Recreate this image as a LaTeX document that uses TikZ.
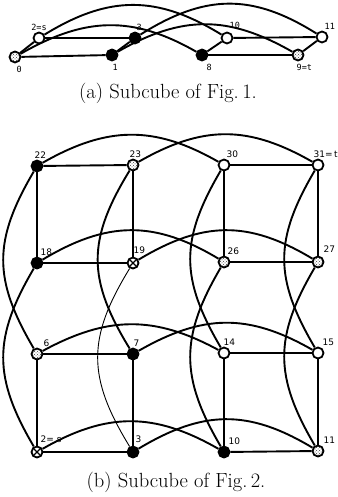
\documentclass[tikz,border=0pt]{standalone}
\usepackage{fontspec}
\newfontfamily\lblfont{DejaVu Sans}
\newfontfamily\lblmono{DejaVu Sans Mono}
\usetikzlibrary{patterns}
\pgfdeclarelayer{bg}
\pgfsetlayers{bg,main}
\begin{document}
\begin{tikzpicture}[x=1pt,y=-1pt,
  vtx/.style={circle,draw,line width=1.8pt,minimum size=11pt,inner sep=0pt},
  wv/.style={vtx,fill=white},
  bv/.style={vtx,fill=black},
  dv/.style={vtx,preaction={fill=white},pattern=crosshatch dots,pattern color=black!75},
  xv/.style={vtx,fill=white,path picture={\draw[line width=1.1pt]
     (path picture bounding box.north west)--(path picture bounding box.south east)
     (path picture bounding box.north east)--(path picture bounding box.south west);}},
  edge/.style={line width=1.9pt},
  thinedge/.style={line width=0.9pt},
  lb/.style={font=\lblfont\fontsize{9}{9}\selectfont,inner sep=0.5pt,anchor=south west},
  la/.style={font=\lblmono\fontsize{8.5}{8.5}\selectfont,inner sep=0.5pt},
  captxt/.style={font=\fontsize{20.5}{24}\selectfont,inner sep=0pt,anchor=base}
]
\useasboundingbox (0,0) rectangle (337,497);

% ---------- (a) ----------
\node[dv,label={[la,anchor=north west,xshift=1pt,yshift=-2pt]south:0}] (a0) at (15,57) {};
\node[bv,label={[la,anchor=north west,yshift=-2pt]south:1}] (a1) at (112,55) {};
\node[bv,label={[la,anchor=north west,xshift=4pt,yshift=-2pt]south:8}] (a8) at (202,55) {};
\node[dv,label={[la,anchor=north west,xshift=-2pt,yshift=-2pt]south:9=t}] (a9) at (298,55) {};
\node[wv,label={[la,anchor=south]north:2=s}] (a2) at (39,38) {};
\node[bv,label={[la,anchor=south west,xshift=1pt]north:3}] (a3) at (135,38) {};
\node[wv,label={[la,anchor=south west,xshift=2pt,yshift=2pt]north:10}] (a10) at (227,38) {};
\node[wv,label={[la,anchor=south west,xshift=2pt]north:11}] (a11) at (322,37) {};

\begin{pgfonlayer}{bg}
\draw[edge] (a0) -- (a1);
\draw[edge] (a8) -- (a9);
\draw[edge] (a2) -- (a3);
\draw[edge] (a10) -- (a11);
\draw[edge] (a0) -- (a2);
\draw[edge] (a1) -- (a3);
\draw[edge] (a8) -- (a10);
\draw[edge] (a9) -- (a11);
\draw[edge] (a0) .. controls +(70,-40) and +(-70,-40) .. (a8);
\draw[edge] (a1) .. controls +(70,-40) and +(-70,-40) .. (a9);
\draw[edge] (a2) .. controls +(70,-43) and +(-70,-43) .. (a10);
\draw[edge] (a3) .. controls +(70,-44) and +(-70,-44) .. (a11);
\end{pgfonlayer}

\node[captxt] (capa) at (168,99) {(a) Subcube of Fig.\,1.};

% ---------- (b) ----------
\node[bv,label={[lb,xshift=-3pt]north:22}] (n22) at (37,166) {};
\node[dv,label={[lb,xshift=-4pt]north:23}] (n23) at (133,165) {};
\node[wv,label={[lb,xshift=2pt]north:30}] (n30) at (224,165) {};
\node[wv,label={[lb,xshift=-5pt]north:31=\,t}] (n31) at (318,165) {};
\node[bv,label={[lb,xshift=3pt]north:18}] (n18) at (37,263) {};
\node[xv,label={[lb,xshift=0pt,yshift=2pt]north:19}] (n19) at (133,263) {};
\node[dv,label={[lb,xshift=3pt]north:26}] (n26) at (224,262) {};
\node[dv,label={[lb,xshift=5pt,yshift=2pt]north:27}] (n27) at (318,262) {};
\node[dv,label={[lb,xshift=6pt]north:6}] (n6) at (37,354) {};
\node[bv,label={[lb,xshift=0pt]north:7}] (n7) at (133,354) {};
\node[wv,label={[lb,xshift=-1pt]north:14}] (n14) at (224,353) {};
\node[wv,label={[lb,xshift=4pt]north:15}] (n15) at (318,353) {};
\node[xv,label={[lb,xshift=3pt,yshift=2pt]north:2= s}] (n2) at (37,452) {};
\node[bv,label={[lb,xshift=2pt,yshift=2pt]north:3}] (n3) at (133,452) {};
\node[bv,label={[lb,xshift=4pt]north:10}] (n10) at (224,452) {};
\node[dv,label={[lb,xshift=5pt]north:11}] (n11) at (318,451) {};

\begin{pgfonlayer}{bg}
% squares
\draw[edge] (n22) -- (n23); \draw[edge] (n22) -- (n18);
\draw[edge] (n23) -- (n19); \draw[edge] (n18) -- (n19);
\draw[edge] (n30) -- (n31); \draw[edge] (n30) -- (n26);
\draw[edge] (n31) -- (n27); \draw[edge] (n26) -- (n27);
\draw[edge] (n6) -- (n7);   \draw[edge] (n6) -- (n2);
\draw[edge] (n7) -- (n3);   \draw[edge] (n2) -- (n3);
\draw[edge] (n14) -- (n15); \draw[edge] (n14) -- (n10);
\draw[edge] (n15) -- (n11); \draw[edge] (n10) -- (n11);
% horizontal arcs
\draw[edge] (n22) .. controls +(70,-40) and +(-70,-40) .. (n30);
\draw[edge] (n23) .. controls +(70,-40) and +(-70,-40) .. (n31);
\draw[edge] (n18) .. controls +(70,-42) and +(-70,-42) .. (n26);
\draw[edge] (n19) .. controls +(70,-42) and +(-70,-42) .. (n27);
\draw[edge] (n6) .. controls +(70,-38) and +(-70,-38) .. (n14);
\draw[edge] (n7) .. controls +(70,-40) and +(-70,-40) .. (n15);
\draw[edge] (n2) .. controls +(70,-40) and +(-70,-40) .. (n10);
\draw[edge] (n3) .. controls +(70,-42) and +(-70,-42) .. (n11);
% vertical arcs
\draw[edge] (n22) .. controls +(-44,75) and +(-44,-75) .. (n6);
\draw[edge] (n18) .. controls +(-44,75) and +(-44,-75) .. (n2);
\draw[edge] (n23) .. controls +(-46,75) and +(-46,-75) .. (n7);
\draw[thinedge] (n19) .. controls +(-46,75) and +(-46,-75) .. (n3);
\draw[edge] (n30) .. controls +(-44,75) and +(-44,-75) .. (n14);
\draw[edge] (n26) .. controls +(-44,75) and +(-44,-75) .. (n10);
\draw[edge] (n31) .. controls +(-44,75) and +(-44,-75) .. (n15);
\draw[edge] (n27) .. controls +(-44,75) and +(-44,-75) .. (n11);
\end{pgfonlayer}

\node[captxt] (capb) at (176,487) {(b) Subcube of Fig.\,2.};
\end{tikzpicture}
\end{document}
